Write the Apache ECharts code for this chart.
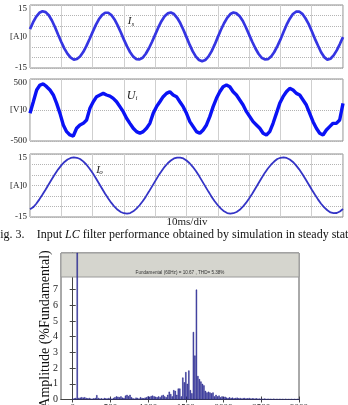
<!DOCTYPE html>
<html>
<head>
<meta charset="utf-8">
<script src="https://cdn.jsdelivr.net/npm/echarts@6/dist/echarts.min.js"></script>
<style>
  html, body { margin: 0; background: #fff; }
  #chart { width: 348px; height: 405px; }
</style>
</head>
<body>
<div id="chart"></div>
<script>
// supply current Is [A], one sample per ms, 0..100 ms
var isValues = [
  3.5, 6.8, 9.5, 11.3, 12.0, 11.6, 10.1, 7.6, 4.4, 0.8,
  -2.6, -5.8, -8.3, -10.1, -11.0, -10.7, -9.5, -7.4, -4.6, -1.3,
  2.1, 5.4, 8.2, 10.2, 11.3, 11.3, 10.2, 8.1, 5.3, 2.0,
  -1.5, -4.7, -7.5, -9.6, -10.8, -10.9, -10.1, -8.2, -5.6, -2.5,
  0.9, 4.3, 7.3, 9.6, 11.0, 11.4, 10.7, 8.9, 6.4, 3.2,
  -0.3, -3.9, -7.1, -9.6, -11.2, -11.8, -11.2, -9.6, -7.1, -3.9,
  -0.3, 3.2, 6.3, 8.9, 10.7, 11.4, 11.0, 9.6, 7.4, 4.3,
  0.9, -2.5, -5.6, -8.2, -10.1, -10.9, -10.8, -9.6, -7.5, -4.7,
  -1.5, 2.1, 5.6, 8.5, 10.7, 11.8, 11.9, 10.8, 8.7, 6.0,
  2.6, -1.0, -4.3, -7.5, -9.8, -11.0, -10.6, -9.0, -6.6, -3.6,
  -0.3
];

// input voltage Ui [V], 95 samples over 100 ms
var uiValues = [
  -53, 134, 322, 403, 420, 376, 322, 242, 107, -54,
  -241, -349, -403, -420, -295, -241, -215, -161, 27, 134,
  215, 242, 268, 242, 225, 188, 134, 54, -27, -134,
  -215, -295, -349, -376, -349, -295, -215, -54, 54, 134,
  215, 268, 295, 242, 215, 134, 54, -54, -188, -268,
  -349, -376, -322, -241, -107, 54, 188, 295, 376, 403,
  376, 295, 242, 161, 80, -27, -107, -188, -241, -295,
  -376, -403, -349, -215, -54, 107, 215, 295, 349, 322,
  268, 242, 161, 80, -54, -188, -295, -376, -403, -322,
  -268, -215, -215, -161, 107
];

// output current Io [A], one sample per ms
var ioValues = [
  -11.3, -10.4, -8.7, -6.6, -4.3, -1.9, 0.6, 3.1, 5.5, 7.7,
  9.6, 11.2, 12.4, 13.1, 13.4, 13.2, 12.6, 11.5, 10.0, 8.1,
  6.0, 3.6, 1.1, -1.4, -3.9, -6.2, -8.3, -10.1, -11.6, -12.6,
  -13.2, -13.4, -13.1, -12.3, -11.0, -9.4, -7.5, -5.3, -2.9, -0.4,
  2.1, 4.6, 6.8, 8.9, 10.6, 11.9, 12.9, 13.3, 13.3, 12.9,
  11.9, 10.6, 8.9, 6.9, 4.6, 2.1, -0.4, -2.9, -5.3, -7.5,
  -9.4, -11.0, -12.3, -13.1, -13.4, -13.2, -12.6, -11.6, -10.1, -8.3,
  -6.2, -3.9, -1.4, 1.1, 3.6, 6.0, 8.1, 9.9, 11.4, 12.6,
  13.2, 13.4, 13.1, 12.4, 11.2, 9.6, 7.7, 5.5, 3.1, 0.6,
  -1.9, -4.3, -6.6, -8.7, -10.4, -11.8, -12.8, -13.2, -13.1, -12.4,
  -11.2
];

// harmonic spectrum, % of fundamental, every 20 Hz from 0 to 3000 Hz
var specStep = 20;
var specAmp = [
  0.05, 0.08, 0.1, 100, 0.1, 0.12, 0.15, 0.12, 0.15, 0.1,
  0.08, 0.1, 0.06, 0.05, 0.08, 0.1, 0.28, 0.1, 0.06, 0.08,
  0.05, 0.1, 0.08, 0.06, 0.1, 0.08, 0.05, 0.1, 0.15, 0.2,
  0.18, 0.15, 0.2, 0.12, 0.1, 0.25, 0.3, 0.22, 0.3, 0.15,
  0.08, 0.05, 0.12, 0.1, 0.06, 0.15, 0.1, 0.08, 0.12, 0.15,
  0.2, 0.18, 0.22, 0.25, 0.2, 0.18, 0.15, 0.2, 0.15, 0.25,
  0.3, 0.2, 0.15, 0.3, 0.5, 0.35, 0.2, 0.6, 0.55, 0.3,
  0.7, 0.7, 0.2, 1.4, 1.1, 1.75, 1.0, 1.85, 0.6, 0.4,
  4.3, 2.8, 7.0, 1.5, 1.3, 1.15, 1.0, 0.9, 0.55, 0.45,
  0.5, 0.45, 0.4, 0.45, 0.2, 0.3, 0.2, 0.25, 0.15, 0.2,
  0.15, 0.18, 0.12, 0.1, 0.14, 0.1, 0.12, 0.08, 0.1, 0.12,
  0.08, 0.1, 0.06, 0.09, 0.1, 0.07, 0.08, 0.1, 0.06, 0.08,
  0.07, 0.06, 0.08, 0.05, 0.06, 0.05, 0.04, 0.06, 0.05, 0.04,
  0.05, 0.04, 0.03, 0.05, 0.04, 0.03, 0.04, 0.03, 0.04, 0.03,
  0.03, 0.04, 0.03, 0.02, 0.03, 0.03, 0.02, 0.03, 0.02, 0.03,
  0.02
];

var freqTicks = [0, 500, 1000, 1500, 2000, 2500, 3000];
var ampTicks = [0, 1, 2, 3, 4, 5, 6, 7];
var specTitle = 'Fundamental (60Hz) = 10.67 , THD= 5.38%';

var serif = '"Liberation Serif", "DejaVu Serif", serif';

function waveGrid(top, height) {
  return { left: 30, right: 5, top: top, height: height, show: true, outerBoundsMode: 'none',
    borderColor: '#8c8c8c', borderWidth: 1 };
}
function waveX(idx) {
  return {
    gridIndex: idx, type: 'value', min: 0, max: 100, interval: 10,
    axisLine: { show: false }, axisTick: { show: false }, axisLabel: { show: false },
    splitLine: { show: true, lineStyle: { color: '#cfcfcf', width: 1 } }
  };
}
function waveY(idx, lim, step, unit) {
  return {
    gridIndex: idx, type: 'value', min: -lim, max: lim, interval: step,
    axisLine: { show: false }, axisTick: { show: false },
    axisLabel: {
      fontFamily: serif, fontSize: 9, color: '#222', margin: 3,
      formatter: function (v) {
        if (v === 0) return unit + '0';
        if (v === lim) return '{hi|' + v + '}';
        if (v === -lim) return '{lo|' + v + '}';
        return '';
      },
      rich: {
        hi: { fontFamily: serif, fontSize: 9, color: '#222', padding: [7, 0, 0, 0] },
        lo: { fontFamily: serif, fontSize: 9, color: '#222', padding: [0, 0, 1, 0] }
      }
    },
    splitLine: { show: true, lineStyle: { color: '#b4b4b4', type: 'dotted', width: 1 } }
  };
}

var chart = echarts.init(document.getElementById('chart'), null, { renderer: 'canvas' });

var option = {
  animation: false,
  backgroundColor: '#fff',
  grid: [
    waveGrid(5, 63),
    waveGrid(79, 62),
    waveGrid(154, 63),
    { left: 61, right: 49, top: 253, height: 146.5, show: true, outerBoundsMode: 'none',
      borderColor: '#555', borderWidth: 1 },
    { left: 61, right: 49, top: 277, height: 122.5, outerBoundsMode: 'none' }
  ],
  xAxis: [
    waveX(0), waveX(1), waveX(2),
    {
      gridIndex: 3, type: 'value', min: -155, max: 3000,
      axisLine: { show: true, lineStyle: { color: '#444' } },
      axisTick: { show: true, inside: true, length: 3, customValues: freqTicks, lineStyle: { color: '#444' } },
      axisLabel: { customValues: freqTicks, fontFamily: serif, fontSize: 9, color: '#222', margin: 4,
        formatter: function (v) { return String(v); } },
      splitLine: { show: false }
    },
    {
      gridIndex: 4, type: 'value', min: -155, max: 3000, position: 'top',
      axisLine: { show: true, lineStyle: { color: '#444' } },
      axisTick: { show: true, inside: true, length: 3, customValues: freqTicks, lineStyle: { color: '#444' } },
      axisLabel: { show: false }, splitLine: { show: false }
    }
  ],
  yAxis: [
    waveY(0, 15, 5, '[A]'),
    waveY(1, 500, 500, '[V]'),
    waveY(2, 15, 5, '[A]'),
    {
      gridIndex: 3, type: 'value', min: 0, max: 9.33,
      axisLine: { show: true, lineStyle: { color: '#444' } },
      axisTick: { show: true, inside: true, length: 3, customValues: ampTicks, lineStyle: { color: '#444' } },
      axisLabel: { customValues: ampTicks, fontFamily: serif, fontSize: 10, color: '#222', margin: 3 },
      splitLine: { show: false }
    },
    {
      gridIndex: 4, type: 'value', min: 0, max: 7.8, position: 'right',
      axisLine: { show: true, lineStyle: { color: '#444' } },
      axisTick: { show: true, inside: true, length: 3, customValues: ampTicks, lineStyle: { color: '#444' } },
      axisLabel: { show: false }, splitLine: { show: false }
    }
  ],
  graphic: [
    { type: 'rect', z: 1, shape: { x: 61, y: 253, width: 238, height: 24 },
      style: { fill: '#d5d5ce', stroke: '#9a9a9a', lineWidth: 1 } },
    { type: 'text', z: 3, x: 180, y: 272.5,
      style: { text: specTitle, font: '4.6px "Liberation Sans", sans-serif', fill: '#333', align: 'center', verticalAlign: 'middle' } },
    { type: 'text', x: 45, y: 329, rotation: Math.PI / 2,
      style: { text: 'Amplitude (%Fundamental)', font: '14px ' + serif, fill: '#111', align: 'center', verticalAlign: 'middle' } },
    { type: 'text', x: 129.5, y: 21.5,
      style: { text: 'I', font: 'italic 11px ' + serif, fill: '#222', align: 'center', verticalAlign: 'middle' } },
    { type: 'text', x: 132.8, y: 24.5,
      style: { text: 's', font: 'italic 7px ' + serif, fill: '#222', align: 'center', verticalAlign: 'middle' } },
    { type: 'text', x: 131, y: 95.8,
      style: { text: 'U', font: 'italic 12px ' + serif, fill: '#222', align: 'center', verticalAlign: 'middle' } },
    { type: 'text', x: 136.5, y: 98.5,
      style: { text: 'i', font: 'italic 7px ' + serif, fill: '#222', align: 'center', verticalAlign: 'middle' } },
    { type: 'text', x: 98, y: 169.7,
      style: { text: 'I', font: 'italic 11px ' + serif, fill: '#222', align: 'center', verticalAlign: 'middle' } },
    { type: 'text', x: 101, y: 172.5,
      style: { text: 'o', font: 'italic 7px ' + serif, fill: '#222', align: 'center', verticalAlign: 'middle' } },
    { type: 'text', x: 187, y: 222.5,
      style: { text: '10ms/div', font: '11px ' + serif, fill: '#222', align: 'center', verticalAlign: 'middle' } },
    { type: 'text', x: -6.5, y: 235,
      style: { text: 'Fig. 3.', font: '12px ' + serif, fill: '#111', align: 'left', verticalAlign: 'middle' } },
    { type: 'text', x: 36.7, y: 235,
      style: {
        text: '{n|Input }{i|LC}{n| filter performance obtained by simulation in steady state.}',
        align: 'left', verticalAlign: 'middle',
        rich: {
          n: { font: '12px ' + serif, fill: '#111' },
          i: { font: 'italic 12px ' + serif, fill: '#111' }
        }
      } }
  ],
  series: [
    {
      type: 'line', xAxisIndex: 0, yAxisIndex: 0, showSymbol: false, silent: true,
      data: isValues.map(function (v, i) { return [i, v]; }),
      lineStyle: { color: '#3535e2', width: 2.7 }
    },
    {
      type: 'line', xAxisIndex: 1, yAxisIndex: 1, showSymbol: false, silent: true,
      data: uiValues.map(function (v, i) { return [i * 100 / (uiValues.length - 1), v]; }),
      lineStyle: { color: '#0a12f5', width: 3.4 }
    },
    {
      type: 'line', xAxisIndex: 2, yAxisIndex: 2, showSymbol: false, silent: true,
      data: ioValues.map(function (v, i) { return [i, v]; }),
      lineStyle: { color: '#3434c6', width: 1.8 }
    },
    {
      type: 'bar', xAxisIndex: 3, yAxisIndex: 3, silent: true, barWidth: 1.3,
      data: specAmp.map(function (v, i) { return [i * specStep, v]; }),
      itemStyle: { color: '#4a4ab2', borderColor: '#1a1a80', borderWidth: 0.5 }
    }
  ]
};

chart.setOption(option);
</script>
</body>
</html>
